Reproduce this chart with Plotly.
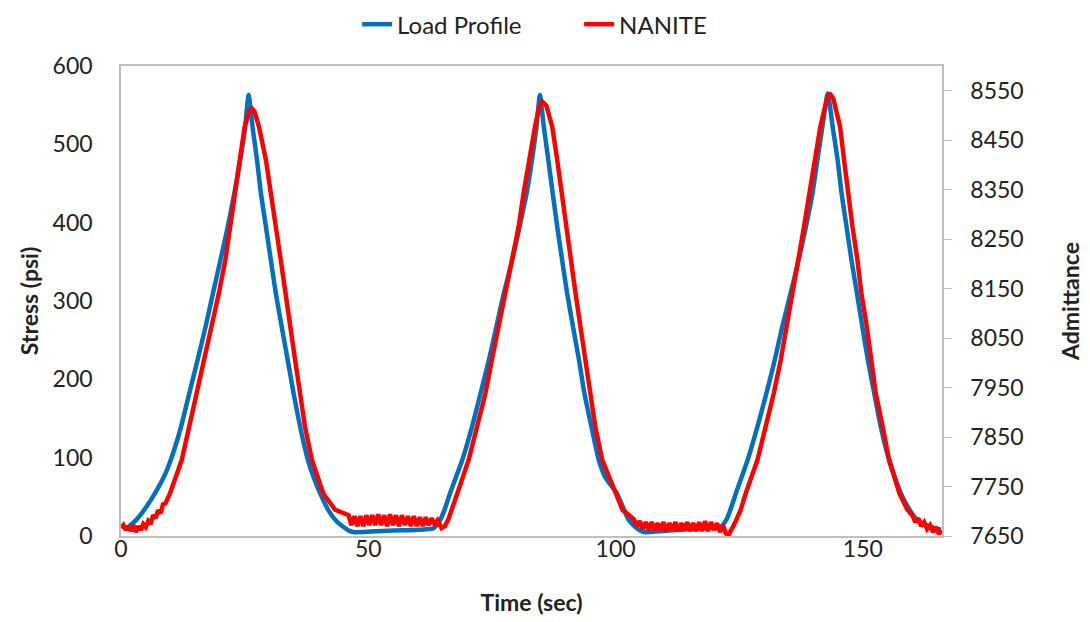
import plotly.graph_objects as go

# ---- Load Profile (Stress, psi) ----
load_time = [1.2, 3.0, 5.0, 7.0, 9.0, 10.5, 12.0, 13.8, 15.5, 17.1, 18.6, 20.1, 21.6, 22.9, 24.1, 25.1, 25.8,
             26.6, 27.5, 28.3, 29.3, 30.3, 31.3, 32.5, 33.7, 34.9, 36.2, 37.8, 39.0, 40.3, 42.0, 43.7, 46.0, 47.0,
             55.0, 63.2, 64.5, 65.5, 66.5, 69.0, 71.0, 72.7, 74.4, 75.9, 77.4, 79.1, 80.6, 82.0, 83.1, 84.0, 84.7,
             85.5, 86.4, 87.3, 88.2, 89.2, 90.2, 91.4, 92.6, 93.7, 95.1, 96.6, 98.0, 100.3, 102.7, 104.5, 105.7,
             113.0, 121.3, 122.5, 123.3, 124.3, 126.7, 128.7, 130.5, 132.2, 133.7, 135.4, 137.0, 138.5, 139.8, 140.8,
             141.8, 142.9, 143.9, 144.9, 145.7, 146.7, 147.7, 148.8, 149.9, 151.0, 152.3, 153.6, 155.3, 157.7,
             159.5, 161.0, 163.5, 165.8]
load_stress = [10, 20, 36, 56, 80, 105, 136, 182, 225, 267, 310, 352, 395, 437, 480, 522, 563,
               522, 480, 437, 395, 352, 310, 267, 225, 182, 140, 97, 74, 54, 32, 18, 7, 5,
               7, 10, 20, 35, 54, 97, 140, 182, 225, 267, 310, 352, 395, 437, 480, 522, 563,
               522, 480, 437, 395, 352, 310, 267, 225, 182, 140, 97, 74, 54, 20, 9, 5,
               8, 12, 22, 35, 54, 97, 140, 182, 225, 267, 310, 352, 395, 437, 480,
               522, 565, 522, 480, 437, 395, 352, 310, 267, 225, 182, 140, 97, 54,
               33, 20, 12, 8]

# ---- NANITE (Admittance) ----
nanite_time = [0.0, 0.5, 1.0, 1.5, 2.0, 2.5, 3.0, 3.5, 4.0, 4.5, 5.0, 5.5, 6.0, 6.5, 7.0, 7.5, 8.0, 8.5, 9.0, 9.5,
               9.9, 12.3, 13.8, 15.5, 17.0, 18.5, 19.8, 21.1, 22.1, 22.9, 23.9, 25.0, 26.0, 26.5, 27.0, 27.9,
               29.3, 30.4, 31.3, 32.3, 33.2, 34.2, 35.2, 36.2, 37.2, 38.6, 40.9, 43.3,
               46.0, 46.6, 47.2, 47.8, 48.4, 49.0, 49.6, 50.2, 50.8, 51.4, 52.0, 52.6, 53.2, 53.8, 54.4, 55.0,
               55.6, 56.2, 56.8, 57.4, 58.0, 58.6, 59.2, 59.8, 60.4, 61.0, 61.6, 62.2, 62.8, 63.4, 64.0, 64.8,
               65.5, 66.2, 66.9, 68.0, 70.3, 72.1, 73.7, 75.0, 76.4, 77.6, 79.1, 80.4, 81.4, 82.5, 83.7, 84.5,
               85.2, 86.0, 87.2, 88.2, 89.1, 89.9, 90.8, 91.9, 92.9, 93.9, 94.9, 95.9, 97.3, 100.0, 101.4,
               103.7, 104.3, 104.9, 105.5, 106.1, 106.7, 107.3, 107.9, 108.5, 109.1, 109.7, 110.3, 110.9, 111.5,
               112.1, 112.7, 113.3, 113.9, 114.5, 115.1, 115.7, 116.3, 116.9, 117.5, 118.1, 118.7, 119.3, 119.9,
               120.5, 121.1, 121.7, 122.3, 122.9, 123.5, 124.3, 125.3, 126.3, 128.7, 130.4, 132.0, 133.4, 134.6,
               135.8, 137.0, 138.1, 139.2, 140.3, 141.4, 142.4, 143.2, 144.0, 144.8, 145.4, 146.2, 147.0, 147.9,
               148.9, 149.7, 150.8, 151.8, 152.6, 154.0, 155.3, 157.4, 159.0, 160.0, 160.6, 161.2, 161.8, 162.4,
               163.0, 163.6, 164.2, 164.8, 165.4, 165.9]
nanite_adm = [7666, 7672, 7662, 7670, 7660, 7672, 7658, 7670, 7662, 7674, 7668, 7680, 7674, 7692, 7686, 7702, 7696, 7714, 7716, 7728,
              7736, 7804, 7871, 7939, 8006, 8073, 8141, 8208, 8275, 8343, 8410, 8477, 8510, 8514, 8508, 8477,
              8410, 8343, 8275, 8208, 8141, 8073, 8006, 7939, 7871, 7804, 7736, 7703,
              7692, 7672, 7690, 7670, 7690, 7670, 7692, 7672, 7692, 7672, 7694, 7672, 7692, 7670, 7694, 7672,
              7692, 7670, 7692, 7672, 7690, 7670, 7690, 7670, 7688, 7670, 7688, 7672, 7686, 7674, 7682, 7666,
              7670, 7684, 7703, 7736, 7804, 7871, 7939, 8006, 8073, 8141, 8208, 8275, 8343, 8410, 8477, 8515,
              8528, 8520, 8477, 8410, 8343, 8275, 8208, 8141, 8073, 8006, 7939, 7871, 7804, 7736, 7703,
              7684, 7670, 7680, 7664, 7678, 7662, 7678, 7662, 7676, 7662, 7678, 7660, 7676, 7662,
              7678, 7660, 7676, 7662, 7678, 7660, 7676, 7660, 7678, 7660, 7680, 7660, 7678, 7662,
              7676, 7658, 7672, 7655, 7653, 7664, 7680, 7703, 7736, 7804, 7871, 7939, 8006, 8073,
              8141, 8208, 8275, 8343, 8410, 8477, 8520, 8545, 8535, 8500, 8477, 8410, 8343, 8275,
              8208, 8141, 8073, 8006, 7939, 7871, 7804, 7736, 7703, 7692, 7678, 7686, 7670, 7678,
              7664, 7672, 7658, 7668, 7654, 7662]

left_ticks = [0, 100, 200, 300, 400, 500, 600]
right_ticks = [7650, 7750, 7850, 7950, 8050, 8150, 8250, 8350, 8450, 8550]
x_ticks = [0, 50, 100, 150]

FONT = "Lato, 'Open Sans', sans-serif"
GRAY = "#BFBFBF"

fig = go.Figure()
fig.add_trace(go.Scatter(x=load_time, y=load_stress, mode="lines", name="Load Profile",
                         line=dict(color="#0070C0", width=4.5, shape="spline", smoothing=0.5)))
fig.add_trace(go.Scatter(x=nanite_time, y=nanite_adm, mode="lines", name="NANITE", yaxis="y2",
                         line=dict(color="#FF0000", width=4.5)))

fig.update_layout(
    width=1090, height=622,
    margin=dict(l=121, r=148, t=66, b=86, autoexpand=False),
    paper_bgcolor="white", plot_bgcolor="white",
    font=dict(family=FONT, size=23, color="#222222"),
    showlegend=True,
    legend=dict(orientation="h", x=0.558, xanchor="center", y=1.136, yanchor="top",
                font=dict(size=24, color="#222222"), entrywidth=177, entrywidthmode="pixels",
                itemwidth=30),
    xaxis=dict(range=[0, 166], tickvals=x_ticks, showgrid=False, zeroline=False,
               showline=True, linecolor=GRAY, linewidth=1.5, mirror=True, ticks="",
               ticklabelstandoff=-8,
               title=dict(text="<b>Time (sec)</b>", font=dict(size=23), standoff=34)),
    yaxis=dict(range=[0, 600], tickvals=left_ticks, showgrid=False, zeroline=False,
               showline=True, linecolor=GRAY, linewidth=1.5, mirror=True, ticks="",
               ticklabelstandoff=22,
               title=dict(text="<b>Stress (psi)</b>", font=dict(size=23), standoff=8)),
    yaxis2=dict(range=[7650, 8600], tickvals=right_ticks, overlaying="y", side="right",
                showgrid=False, zeroline=False, showline=True, linecolor=GRAY, linewidth=1.5,
                ticks="outside", ticklen=8, tickcolor=GRAY, ticklabelstandoff=14,
                title=dict(text="<b>Admittance</b>", font=dict(size=23), standoff=40)),
)

fig.write_html("out.html")
